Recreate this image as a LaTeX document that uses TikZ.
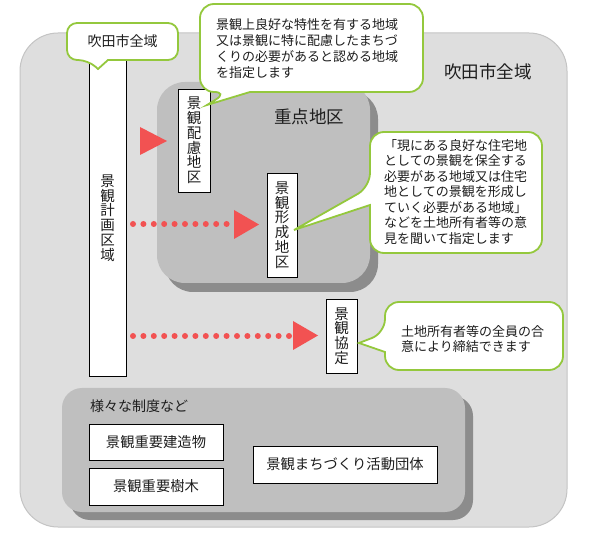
\documentclass[tikz,border=0pt]{standalone}
\usepackage{fontspec}
\setmainfont{Noto Sans CJK JP}
\definecolor{outerfill}{HTML}{DEDEDE}
\definecolor{outerline}{HTML}{C4C4C4}
\definecolor{zonegray}{HTML}{BFBFBF}
\definecolor{shadowgray}{HTML}{8C8C8C}
\definecolor{arrred}{HTML}{F25252}
\definecolor{callgreen}{HTML}{94C83D}
\definecolor{txt}{HTML}{1E1E1E}
\begin{document}
\begin{tikzpicture}[x=1pt,y=-1pt,
  box/.style={draw=black, line width=0.8pt, fill=white, inner sep=0pt, text=txt},
  vbox/.style={box, align=center, font=\fontsize{14.5}{14.8}\selectfont},
  hbox/.style={box, font=\fontsize{14.3}{16}\selectfont},
  callout/.style={draw=callgreen, line width=1.8pt, fill=white, rounded corners=14pt},
  ctext/.style={align=left, text=txt, inner sep=0pt, anchor=west},
  biglabel/.style={font=\fontsize{17.5}{19}\selectfont, text=txt, inner sep=0pt},
  dotline/.style={draw=arrred, line width=6pt, line cap=round, dash pattern=on 0pt off 10.4pt},
  tri/.style={fill=arrred, draw=none}]
\useasboundingbox (0,0) rectangle (597,534);

% outer area
\filldraw[fill=outerfill, draw=outerline, line width=1pt, rounded corners=38pt] (20,33) rectangle (567,527);
\node[biglabel] (allLabel) at (488,72) {吹田市全域};

% priority zone
\fill[shadowgray, rounded corners=28pt] (165,91) rectangle (378,292);
\fill[zonegray, rounded corners=28pt] (157,82) rectangle (370,283);
\node[biglabel] (zoneLabel) at (309,117) {重点地区};

% other systems
\fill[shadowgray, rounded corners=20pt] (70,396) rectangle (473,520);
\fill[zonegray, rounded corners=20pt] (62,388) rectangle (465,512);
\node[anchor=west, inner sep=0pt, text=txt, font=\fontsize{14}{16}\selectfont] (sysLabel) at (90,406) {様々な制度など};

% boxes
\node[vbox, minimum width=37pt, minimum height=316pt] (plan) at (107.5,218) {景\\観\\計\\画\\区\\域};
\node[vbox, minimum width=32pt, minimum height=103pt] (hairyo) at (194,140.5) {景\\観\\配\\慮\\地\\区};
\node[vbox, minimum width=30pt, minimum height=104pt] (keisei) at (282,225) {景\\観\\形\\成\\地\\区};
\node[vbox, minimum width=31pt, minimum height=74pt] (kyotei) at (341.5,336) {景\\観\\協\\定};
\node[hbox, minimum width=134pt, minimum height=36pt] (kenzo) at (156,442) {景観重要建造物};
\node[hbox, minimum width=134pt, minimum height=37pt] (jumoku) at (156,486.5) {景観重要樹木};
\node[hbox, minimum width=184pt, minimum height=37pt] (dantai) at (345,464.5) {景観まちづくり活動団体};

% red arrows
\fill[tri] (140,127) -- (140,155) -- (167,141) -- cycle;
\coordinate (a2s) at (133,224);
\coordinate (a2e) at (228,224);
\draw[dotline] (a2s) -- (a2e);
\fill[tri] (234,210) -- (234,239) -- (259,224.5) -- cycle;
\coordinate (a3s) at (133,336);
\coordinate (a3e) at (290,336);
\draw[dotline] (a3s) -- (a3e);
\fill[tri] (293,321) -- (293,350) -- (318,335.5) -- cycle;

% callout 1
\draw[callout, rounded corners=10pt] (108,60) -- (178,60) -- (178,23) -- (67,23) -- (67,60) -- (88,60) [sharp corners] -- (98,69) -- cycle;
\node[text=txt, inner sep=0pt, font=\fontsize{14}{16}\selectfont] (c1text) at (122.5,41.5) {吹田市全域};

% callout 2
\draw[callout] (250,92) -- (423,92) -- (423,4) -- (200,4) -- (200,92) -- (228,92) [sharp corners] -- (207,105) -- cycle;
\node[ctext, font=\fontsize{13}{16}\selectfont] (c2text) at (216,49) {景観上良好な特性を有する地域\\又は景観に特に配慮したまちづ\\くりの必要があると認める地域\\を指定します};

% callout 3
\draw[callout] (370,205) -- (370,253) -- (542,253) -- (542,132) -- (370,132) -- (370,187) [sharp corners] -- (294,230) -- cycle;
\node[ctext, font=\fontsize{13}{15.5}\selectfont] (c3text) at (384,192) {「現にある良好な住宅地\\としての景観を保全する\\必要がある地域又は住宅\\地としての景観を形成し\\ていく必要がある地域」\\などを土地所有者等の意\\見を聞いて指定します};

% callout 4
\draw[callout] (385,352) -- (385,370) -- (563,370) -- (563,302) -- (385,302) -- (385,333) [sharp corners] -- (359,343) -- cycle;
\node[ctext, font=\fontsize{13}{14.3}\selectfont] (c4text) at (401,339) {土地所有者等の全員の合\\意により締結できます};
\end{tikzpicture}
\end{document}
